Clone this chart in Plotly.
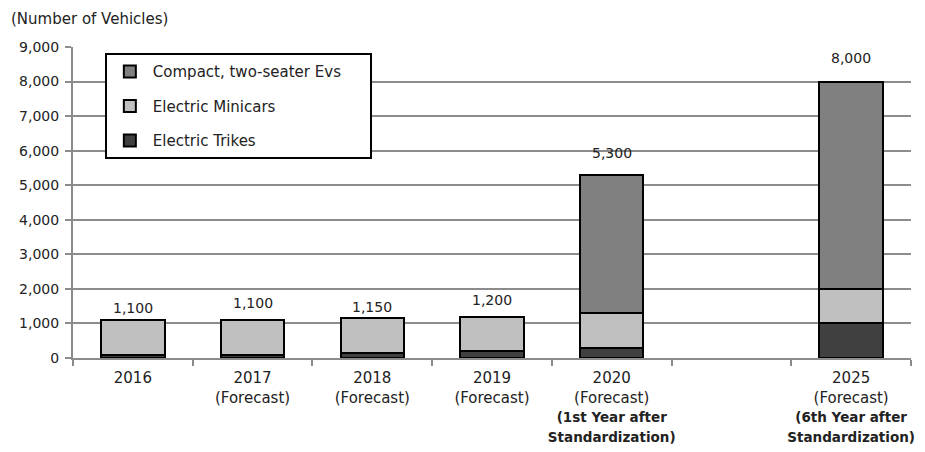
import plotly.graph_objects as go

categories = ["2016", "2017", "2018", "2019", "2020", "gap", "2025"]
tick_labels = [
    "2016",
    "2017<br>(Forecast)",
    "2018<br>(Forecast)",
    "2019<br>(Forecast)",
    "2020<br>(Forecast)<br><b><span style='font-size:13.5px'>(1st Year after</span></b><br><b><span style='font-size:13.5px'>Standardization)</span></b>",
    " ",
    "2025<br>(Forecast)<br><b><span style='font-size:13.5px'>(6th Year after</span></b><br><b><span style='font-size:13.5px'>Standardization)</span></b>",
]
trikes = [100, 100, 150, 200, 300, None, 1000]
minicars = [1000, 1000, 1000, 1000, 1000, None, 1000]
compact = [0, 0, 0, 0, 4000, None, 6000]
totals = [1100, 1100, 1150, 1200, 5300, None, 8000]
total_labels = ["1,100", "1,100", "1,150", "1,200", "5,300", "", "8,000"]
label_shift = [2, 7, 1, 7, 12, 0, 14]

font_main = "DejaVu Sans"
txt_color = "#222222"
line = dict(color="#000000", width=2)

fig = go.Figure()
fig.add_trace(go.Bar(x=categories, y=trikes, name="Electric Trikes",
                     marker=dict(color="#404040", line=line), legendgroup="c", legendrank=3))
fig.add_trace(go.Bar(x=categories, y=minicars, name="Electric Minicars",
                     marker=dict(color="#c0c0c0", line=line), legendgroup="b", legendrank=2))
fig.add_trace(go.Bar(x=categories, y=compact, name="Compact, two-seater Evs\u00a0\u00a0\u00a0\u00a0\u00a0",
                     marker=dict(color="#808080", line=line), legendgroup="a", legendrank=1))

annotations = []
for i, (t, lab, s) in enumerate(zip(totals, total_labels, label_shift)):
    if t is None:
        continue
    annotations.append(dict(x=i, y=t, text=lab, xref="x", yref="y", showarrow=False,
                            yanchor="bottom", yshift=s,
                            font=dict(size=14, family=font_main, color=txt_color)))
annotations.append(dict(text="(Number of Vehicles)", x=-0.0764, y=1.09, xref="paper", yref="paper",
                        xanchor="left", yanchor="middle", showarrow=False,
                        font=dict(size=15, family=font_main, color=txt_color)))

fig.update_layout(
    width=917, height=444,
    margin=dict(l=65, r=14, t=39, b=94, autoexpand=False),
    barmode="stack", bargap=0.47,
    plot_bgcolor="white", paper_bgcolor="white",
    font=dict(family=font_main, size=14, color=txt_color),
    showlegend=True,
    legend=dict(x=0.038, y=0.98, xanchor="left", yanchor="top",
                traceorder="grouped", tracegroupgap=12,
                bordercolor="#000000", borderwidth=2, bgcolor="white",
                font=dict(size=15, family=font_main, color=txt_color),
                itemwidth=36),
    annotations=annotations,
)
fig.update_xaxes(
    type="category", categoryorder="array", categoryarray=categories,
    range=[-0.5, 6.5], automargin=False,
    tickmode="array", tickvals=categories, ticktext=tick_labels,
    tickson="boundaries", ticks="outside", ticklen=6, tickcolor="#8c8c8c", tickwidth=2,
    ticklabelstandoff=5,
    showline=True, linecolor="#8c8c8c", linewidth=2, showgrid=False,
    tickfont=dict(size=15, family=font_main, color=txt_color), tickangle=0,
)
fig.update_yaxes(
    range=[0, 9000], tickvals=list(range(0, 9001, 1000)), tickformat=",d", automargin=False,
    showline=True, linecolor="#8c8c8c", linewidth=2,
    showgrid=True, gridcolor="#8c8c8c", gridwidth=2,
    ticks="outside", ticklen=6, tickcolor="#8c8c8c", tickwidth=2,
    ticklabelstandoff=3,
    tickfont=dict(size=14, family=font_main, color=txt_color), zeroline=False,
)
fig.write_html("out.html")
